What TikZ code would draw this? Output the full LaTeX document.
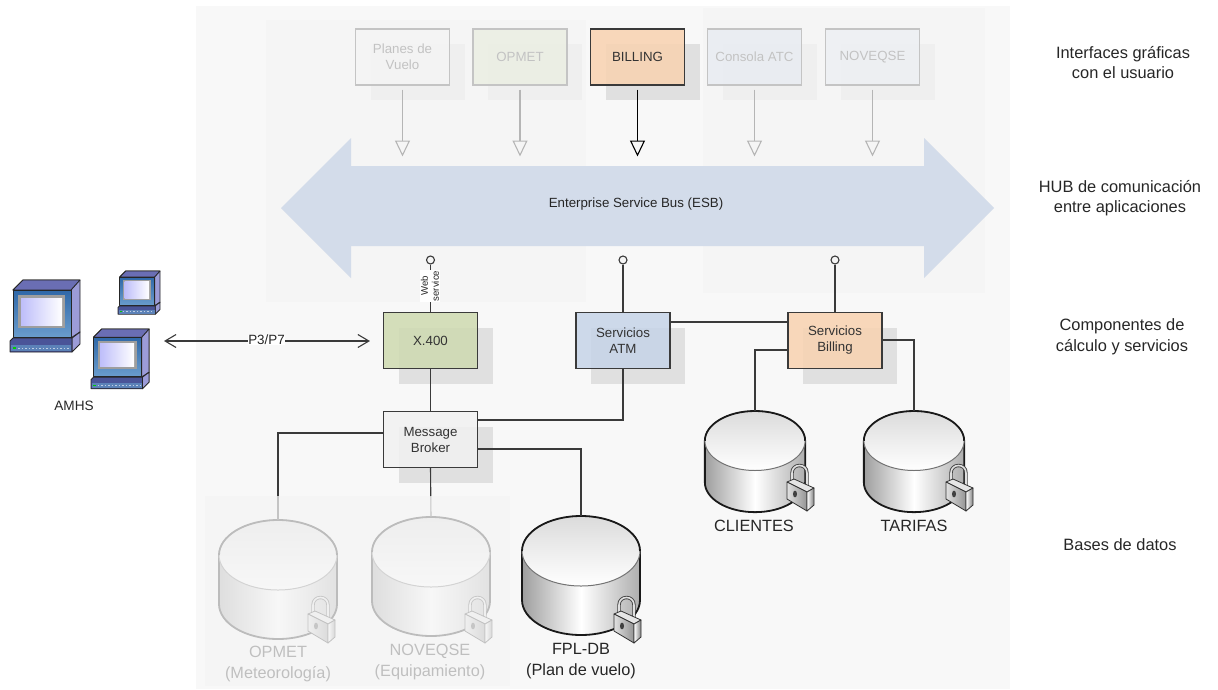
\documentclass[tikz,border=0pt]{standalone}
\usepackage{fontspec}
\setmainfont{Liberation Sans}
\usetikzlibrary{arrows.meta, shadows}

\definecolor{panelgray}{HTML}{F8F8F8}
\definecolor{veilgray}{HTML}{F5F5F5}
\definecolor{shadowgray}{HTML}{E0E0E0}
\definecolor{busblue}{HTML}{D3DCEA}
\definecolor{boxgreen}{HTML}{CEDAB0}
\definecolor{boxblue}{HTML}{C6D4E8}
\definecolor{boxorange}{HTML}{F8D2B0}
\definecolor{boxplain}{HTML}{F1F1F1}
\definecolor{linegray}{HTML}{3A3A3A}
\definecolor{monitortop}{HTML}{2F68A8}
\definecolor{monitorlow}{HTML}{6A9CCC}
\definecolor{casing}{HTML}{9C9CD8}
\definecolor{casingdark}{HTML}{6A6EB4}
\definecolor{screenlow}{HTML}{BEBEFA}
\definecolor{keyband}{HTML}{4A5498}
\definecolor{keypad}{HTML}{5C82B8}

\tikzset{
  comp/.style={draw=linegray,line width=1.1pt,minimum width=94pt,minimum height=56pt,align=center,
    font=\fontsize{13.3}{16}\selectfont,text=black!80,fill opacity=.85,text opacity=1,
    general shadow={fill=shadowgray,draw=none,fill opacity=1,shadow xshift=15pt,shadow yshift=-15pt}},
  wire/.style={draw=linegray,line width=1.1pt},
  lolli/.style={draw=linegray,line width=1.1pt,circle,fill=veilgray,inner sep=0pt,minimum size=8pt},
  side/.style={font=\fontsize{16.4}{20.5}\selectfont,align=center,text=black!85},
  dblabel/.style={font=\fontsize{16.3}{21}\selectfont,align=center,text=black!85},
  tri/.style={line width=1.1pt,-{Triangle[open,length=16pt,width=15pt]}},
  veil/.style={fill=veilgray,fill opacity=.74}
}

% cylinder: x, top y, scale, node name
\newcommand{\dbcyl}[4]{
  \begin{scope}[shift={(#1,#2)},scale=#3]
    \shade[left color=black!38,right color=black!32,middle color=white] (-59,35) -- (-59,84)
      .. controls (-59,103) and (-33,119) .. (0,119) .. controls (33,119) and (59,103) .. (59,84) -- (59,35) -- cycle;
    \draw[line width=1.8pt,black!90] (-59,35) -- (-59,84)
      .. controls (-59,103) and (-33,119) .. (0,119) .. controls (33,119) and (59,103) .. (59,84) -- (59,35);
    \shade[top color=black!14,bottom color=white] (0,35) ellipse [x radius=59,y radius=35];
    \draw[line width=1pt,black!55] (0,35) ellipse [x radius=59,y radius=35];
    \draw[line width=1.8pt,black!90] (-59,35) .. controls (-59,16) and (-33,0) .. (0,0)
      .. controls (33,0) and (59,16) .. (59,35);
    \coordinate (#4) at (0,0);
  \end{scope}
}

% padlock: x, y of upper left corner
\newcommand{\lockicon}[2]{
  \begin{scope}[shift={(#1,#2)},line join=round]
    \draw[line width=3.4pt,black!75] (5,3) -- (5,-7) .. controls (5,-17) and (20,-17) .. (20,-7) -- (20,7);
    \draw[line width=1.6pt,black!12] (5,3) -- (5,-7) .. controls (5,-17) and (20,-17) .. (20,-7) -- (20,7);
    \filldraw[draw=black!80,fill=black!10,line width=.8pt] (0,2) -- (7,-1) -- (27,8) -- (20,12) -- cycle;
    \shade[left color=black!12,right color=black!42,draw=black!80,line width=.8pt] (0,2) -- (20,12) -- (20,31) -- (0,19) -- cycle;
    \shade[left color=white,right color=black!50,draw=black!80,line width=.8pt] (20,12) -- (27,8) -- (27,25) -- (20,31) -- cycle;
    \fill[black!75] (8,14) ellipse [x radius=2,y radius=3.4];
  \end{scope}
}

% terminal: x, y of upper left corner, scale
\newcommand{\terminal}[3]{
  \begin{scope}[shift={(#1,#2)},scale=#3,line join=round]
    \filldraw[draw=black!85,fill=casing,line width=.9pt] (3,10) -- (13,0) -- (70,0) -- (70,52) -- (61,58) -- (61,10) -- cycle;
    \filldraw[draw=black!85,fill=casingdark,line width=.9pt] (3,10) -- (13,0) -- (70,0) -- (61,10) -- cycle;
    \shade[top color=monitortop,bottom color=monitorlow,draw=black!85,line width=.9pt] (3,10) rectangle (61,57);
    \fill[black!38] (8,15) rectangle (55,48);
    \shade[left color=screenlow,right color=white] (11,18) rectangle (52,45);
    \filldraw[draw=black!85,fill=casing,line width=.9pt] (62,58) -- (70,52) -- (70,64) -- (62,72) -- cycle;
    \filldraw[draw=black!85,fill=keyband,line width=.9pt] (0,61) -- (3,58) -- (62,58) -- (62,72) -- (0,72) -- cycle;
    \fill[keypad] (1,65) rectangle (61,71);
    \draw[white!60!keypad,line width=1pt,dash pattern=on 1.5pt off 2pt] (8,68) -- (60,68);
    \fill[green!80!black] (3,67) rectangle (6,69);
  \end{scope}
}

\begin{document}
\begin{tikzpicture}[x=1pt,y=-1pt,inner sep=1pt]
\useasboundingbox (0,0) rectangle (1218,689);
\fill[panelgray] (196,6) rectangle (1010,689);

% top row
\node [comp,fill=boxplain]  (planes)  at (402.5,57) {Planes de\\Vuelo};
\node [comp,fill=boxgreen]  (opmet)   at (520,57)   {OPMET};
\node [comp,fill=boxorange] (billing) at (637.5,57) {BILLING};
\node [comp,fill=boxblue]   (consola) at (754.5,57) {Consola ATC};
\node [comp,fill=boxblue!70!white] (noveqse) at (872.5,57) {NOVEQSE};
\coordinate (busin) at (0,156.5);
\foreach \n in {planes,opmet,billing,consola,noveqse}
  \draw [tri] ([yshift=-4pt]\n.south) -- (\n.south |- busin);

\fill[veil] (266,20) rectangle (586,302);
\fill[veil] (703,8) rectangle (985,293);

% bus
\fill[busblue] (281,208) -- (351,138) -- (351,166) -- (924,166) -- (924,138) -- (994,208)
  -- (924,278) -- (924,246) -- (351,246) -- (351,278) -- cycle;
\node [font=\fontsize{13.3}{14}\selectfont,text=black!85] (esb) at (636,204.5) {Enterprise Service Bus (ESB)};

% components
\node [comp,fill=boxgreen]  (xcuatro) at (430.5,340.5) {X.400};
\node [comp,fill=boxblue]   (atm)     at (623,340.5)   {Servicios\\ATM};
\node [comp,fill=boxorange] (srvbill) at (835,340.5)   {Servicios\\Billing};
\node [comp,fill=boxplain]  (broker)  at (430.5,439.5) {Message\\Broker};
\node [lolli] (wsx)  at (430.5,260) {};
\node [lolli] (wsa)  at (623,260)   {};
\node [lolli] (wsb)  at (835,260)   {};

% databases
\dbcyl{278}{520}{1}{dbopmet}
\dbcyl{431}{517}{1}{dbnoveqse}
\dbcyl{581}{516}{1}{dbfpl}
\dbcyl{755}{411}{.85}{dbclientes}
\dbcyl{914}{411}{.85}{dbtarifas}
\lockicon{308}{612}
\lockicon{465}{612}
\lockicon{614}{612}
\lockicon{787}{480}
\lockicon{946}{480}

% wires
\draw [wire] (xcuatro.north) -- (wsx.south);
\draw [wire] (atm.north) -- (wsa.south);
\draw [wire] (srvbill.north) -- (wsb.south);
\draw [wire] (xcuatro.south) -- (broker.north);
\draw [wire] ([yshift=18.5pt]atm.east) -- ([yshift=18.5pt]srvbill.west);
\draw [wire] ([yshift=-9.5pt]srvbill.west) -| (dbclientes);
\draw [wire] ([yshift=.5pt]srvbill.east) -| (dbtarifas);
\draw [wire] (atm.south) |- ([yshift=19.5pt]broker.east);
\draw [wire] ([yshift=6.5pt]broker.west) -| (dbopmet);
\draw [wire] (broker.south) -- (dbnoveqse);
\draw [wire] ([yshift=-9.5pt]broker.east) -| (dbfpl);

\node [rotate=90,fill=white,inner sep=.5pt,align=center,text=black!85,font=\fontsize{9.6}{11}\selectfont] (webserv) at (430,286) {Web\\service};

% labels of the databases
\node [dblabel] (lopmet)    at (278,663.5) {OPMET\\(Meteorología)};
\node [dblabel] (lnoveqse)  at (430,661.5) {NOVEQSE\\(Equipamiento)};
\node [dblabel] (lfpl)      at (581,661.5) {FPL-DB\\(Plan de vuelo)};
\node [dblabel] (lclientes) at (754,526)   {CLIENTES};
\node [dblabel] (ltarifas)  at (914,526)   {TARIFAS};

\fill[veil] (205,496) rectangle (510,686);

% AMHS
\terminal{10}{280}{1}
\terminal{91}{329}{.83}
\terminal{118}{271}{.6}
\node [font=\fontsize{13.6}{14}\selectfont,text=black!85] (amhs) at (74,406) {AMHS};
\coordinate (amhsport) at (164,341);
\draw [draw=linegray,line width=1.1pt,{Straight Barb[length=11pt,width=13pt]}-{Straight Barb[length=11pt,width=13pt]},shorten >=13pt] (amhsport) -- (xcuatro.west |- amhsport);
\node [fill=white,inner sep=.5pt,text=black!85,font=\fontsize{13.4}{14}\selectfont] (ptres) at (266.5,340) {P3/P7};

% right column
\node [side] (sidea) at (1123,62.5)  {Interfaces gráficas\\con el usuario};
\node [side] (sideb) at (1120,198)   {HUB de comunicación\\entre aplicaciones};
\node [side] (sidec) at (1122,337)   {Componentes de\\cálculo y servicios};
\node [side] (sided) at (1120,545)   {Bases de datos};
\end{tikzpicture}
\end{document}
